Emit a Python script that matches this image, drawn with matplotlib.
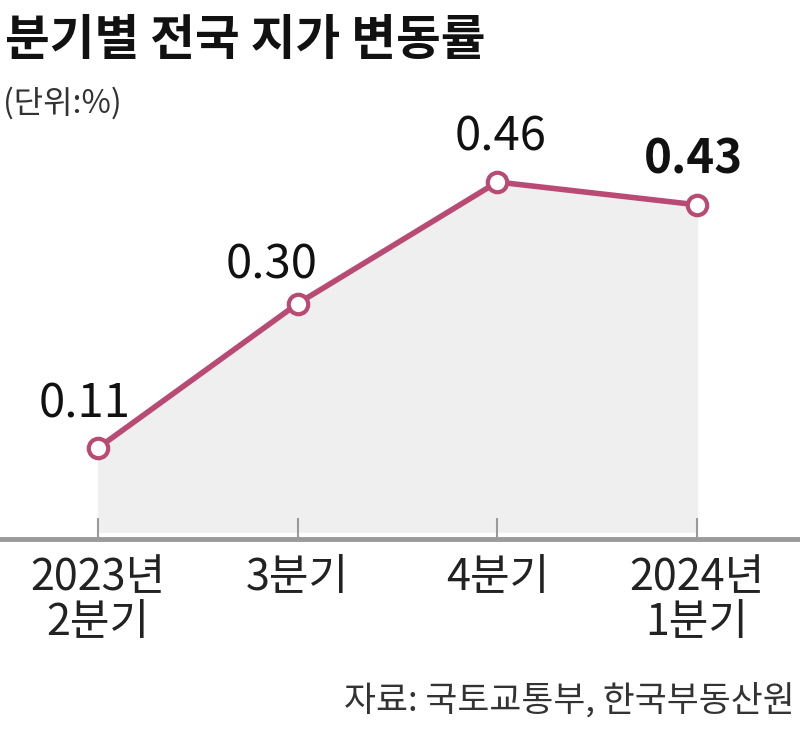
import matplotlib
matplotlib.use("Agg")
import matplotlib.pyplot as plt

plt.rcParams['font.family'] = ['Liberation Sans Narrow', 'Noto Sans CJK KR', 'DejaVu Sans']

# 데이터
quarters = ['2023년\n2분기', '3분기', '4분기', '2024년\n1분기']
rates = [0.11, 0.30, 0.46, 0.43]
value_labels = ['0.11', '0.30', '0.46', '0.43']

line_color = '#b94a74'
fill_color = '#efefef'
axis_color = '#9a9a9a'

fig = plt.figure(figsize=(8, 7.35), dpi=100)
ax = fig.add_axes([0, 0.2667, 1, 0.7333])

x = list(range(len(rates)))
ax.fill_between(x, rates, 0, color=fill_color, zorder=1)
ax.plot(x, rates, color=line_color, lw=4, zorder=3, solid_capstyle='round')
ax.plot(x, rates, 'o', ms=14, mfc='white', mec=line_color, mew=3, zorder=4)

# 값 라벨 (위치 보정)
offsets = [(-13, 44), (-26, 38), (3, 45), (-4, 45)]
for i, (v, t) in enumerate(zip(rates, value_labels)):
    ax.annotate(t, (i, v), xytext=offsets[i], textcoords='offset pixels',
                ha='center', va='center', fontsize=34,
                fontweight='bold' if i == len(rates) - 1 else 'normal',
                color='#111111', zorder=5)

ax.set_xlim(-0.491, 3.516)
ax.set_ylim(-0.0097, 0.6995)
ax.axhline(-0.0097, color=axis_color, lw=3.5, zorder=2, clip_on=False)

for s in ax.spines.values():
    s.set_visible(False)
ax.set_yticks([])
ax.set_xticks(x)
ax.set_xticklabels(quarters, fontsize=31, color='#222222', linespacing=1.05)
ax.tick_params(axis='x', direction='in', length=15, width=1.5, color=axis_color, pad=12)
ax.patch.set_alpha(0)

fig.text(0.006, 0.978, '분기별 전국 지가 변동률', fontsize=35, fontweight='heavy',
         family=['Noto Sans CJK KR'], va='top', ha='left', color='#111111')
fig.text(0.004, 0.86, '(단위:%)', fontsize=23, va='center', ha='left', color='#333333')
fig.text(0.994, 0.047, '자료: 국토교통부, 한국부동산원', fontsize=25, va='center', ha='right',
         family=['Noto Sans CJK KR'], color='#333333')

fig.savefig('out.png', dpi=100, facecolor='white')
